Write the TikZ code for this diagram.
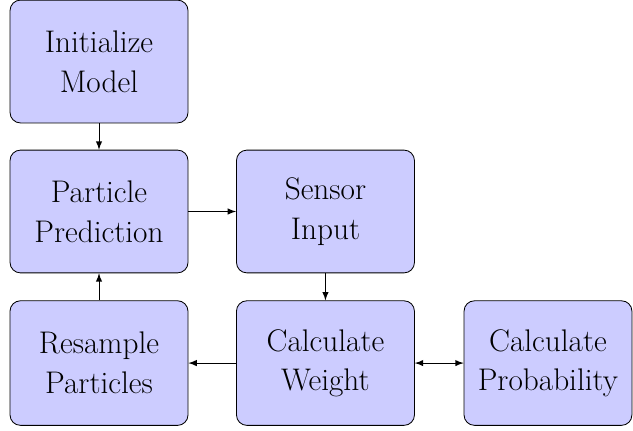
\documentclass[tikz,border=0pt]{standalone}
\usepackage{tikz}
\usetikzlibrary{arrows,positioning}
\tikzset{stepbox/.style={rectangle,draw=black,fill=blue!20,rounded corners=5pt,
  minimum width=3cm,minimum height=2.07cm,align=center,
  font=\fontsize{15}{19}\selectfont}}
\begin{document}
\begin{tikzpicture}
\useasboundingbox (0,0) rectangle (10.67,-7.264);
% \draw[help lines] (0,-8) grid (11,0);
\node (init) [stepbox] at (1.669,-1.037) {Initialize\\Model};
\node (pred) [stepbox] at (1.669,-3.565) {Particle\\Prediction};
\node (sens) [stepbox] at (5.486,-3.565) {Sensor\\Input};
\node (resa) [stepbox,minimum height=2.1cm] at (1.669,-6.12) {Resample\\Particles};
\node (weig) [stepbox,minimum height=2.1cm] at (5.486,-6.12) {Calculate\\Weight};
\node (prob) [stepbox,minimum height=2.1cm,minimum width=2.83cm,inner sep=1pt] at (9.237,-6.12) {Calculate\\Probability};
%
\path[-latex](init) edge (pred);
\path[-latex](pred) edge (sens);
\path[-latex](sens) edge (weig);
\path[-latex](weig) edge (resa);
\path[-latex](resa) edge (pred);
\path[latex-latex](weig) edge (prob);
\end{tikzpicture}
\end{document}
